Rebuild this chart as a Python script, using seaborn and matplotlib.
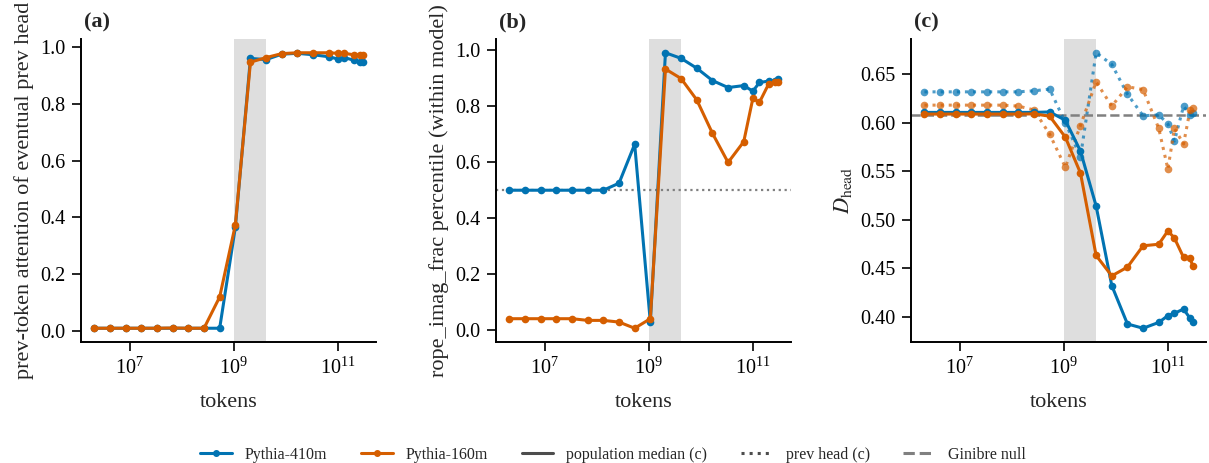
import numpy as np
import matplotlib
matplotlib.use("Agg")
import matplotlib.pyplot as plt
from matplotlib.lines import Line2D
import matplotlib.ticker as ticker
import seaborn as sns

# checkpoints (training steps) and tokens per step
steps = [1, 2, 4, 8, 16, 32, 64, 128, 256, 512, 1000, 2000, 4000, 8000,
         16000, 32000, 48000, 64000, 96000, 128000, 143000]
tokens_per_step = 2097152

# (a) prev-token attention of eventual prev head
attn_410m = [0.010, 0.010, 0.010, 0.010, 0.010, 0.010, 0.010, 0.010, 0.010, 0.365, 0.959,
             0.955, 0.974, 0.977, 0.972, 0.965, 0.957, 0.962, 0.953, 0.946, 0.945]
attn_160m = [0.010, 0.010, 0.010, 0.010, 0.010, 0.011, 0.010, 0.010, 0.120, 0.373, 0.946,
             0.962, 0.976, 0.979, 0.979, 0.979, 0.977, 0.977, 0.972, 0.972, 0.972]

# (b) rope_imag_frac percentile
rope_410m = [0.500, 0.500, 0.500, 0.500, 0.500, 0.500, 0.500, 0.525, 0.664, 0.030, 0.990,
             0.970, 0.935, 0.891, 0.866, 0.873, 0.853, 0.884, 0.889, 0.890, 0.895]
rope_160m = [0.042, 0.042, 0.042, 0.042, 0.042, 0.036, 0.036, 0.030, 0.008, 0.042, 0.932,
             0.898, 0.822, 0.703, 0.599, 0.673, 0.828, 0.813, 0.878, 0.884, 0.884]

# (c) D_head: population median and prev head
med_410m = [0.6105, 0.6105, 0.6105, 0.6105, 0.6105, 0.6105, 0.6105, 0.6105, 0.611, 0.6024, 0.5707,
            0.514, 0.432, 0.3924, 0.388, 0.394, 0.401, 0.4034, 0.4078, 0.3982, 0.3947]
med_160m = [0.6088, 0.6088, 0.6088, 0.6088, 0.6088, 0.6088, 0.6088, 0.609, 0.6066, 0.585, 0.548,
            0.463, 0.442, 0.451, 0.473, 0.4746, 0.4884, 0.481, 0.461, 0.460, 0.4526]
prev_410m = [0.6317, 0.6317, 0.6317, 0.6317, 0.6317, 0.6317, 0.6317, 0.6328, 0.6345, 0.600, 0.5645,
             0.672, 0.660, 0.6293, 0.607, 0.608, 0.5986, 0.581, 0.617, 0.608, 0.610]
prev_160m = [0.618, 0.618, 0.618, 0.618, 0.618, 0.618, 0.617, 0.613, 0.588, 0.554, 0.597,
             0.642, 0.617, 0.637, 0.634, 0.594, 0.552, 0.594, 0.578, 0.613, 0.615]
ginibre_null = 0.6075
onset_window = (1.0e9, 4.2e9)

tokens = np.array(steps) * tokens_per_step
c410 = "#0173b2"
c160 = "#d55e00"

sns.set_theme(style="ticks")
plt.rcParams["font.family"] = ["Liberation Serif", "DejaVu Serif"]
plt.rcParams["mathtext.fontset"] = "stix"
plt.rcParams["axes.linewidth"] = 1.4
plt.rcParams["xtick.major.width"] = 1.2
plt.rcParams["ytick.major.width"] = 1.2
plt.rcParams["xtick.major.size"] = 6.5
plt.rcParams["ytick.major.size"] = 6.5
plt.rcParams["xtick.major.pad"] = 5
plt.rcParams["ytick.major.pad"] = 5
plt.rcParams["axes.edgecolor"] = "black"

fig, axes = plt.subplots(1, 3, figsize=(12.09, 4.63), dpi=100)
fig.subplots_adjust(left=0.067, right=0.9975, bottom=0.2613, top=0.9158, wspace=0.407)

line_kw = dict(marker="o", markersize=5.5, linewidth=2.2, markeredgewidth=0)

def style_axis(ax, letter, ylabel):
    ax.set_xscale("log")
    ax.axvspan(*onset_window, color="0.87", zorder=0, lw=0)
    ax.xaxis.set_major_locator(ticker.FixedLocator([1e7, 1e9, 1e11]))
    ax.xaxis.set_minor_locator(ticker.NullLocator())
    ax.set_xlabel("tokens", fontsize=16, labelpad=10)
    ax.set_ylabel(ylabel, fontsize=16)
    ax.tick_params(labelsize=14.5, colors="black")
    ax.text(0.01, 1.02, letter, transform=ax.transAxes, fontsize=16,
            fontweight="bold", va="bottom", ha="left")
    sns.despine(ax=ax)

# (a)
ax = axes[0]
sns.lineplot(x=tokens, y=attn_410m, ax=ax, color=c410, **line_kw)
sns.lineplot(x=tokens, y=attn_160m, ax=ax, color=c160, **line_kw)
style_axis(ax, "(a)", "prev-token attention of eventual prev head")
ax.set_yticks([0.0, 0.2, 0.4, 0.6, 0.8, 1.0])

# (b)
ax = axes[1]
ax.axhline(0.5, color="0.5", linestyle=":", linewidth=1.6, zorder=1)
sns.lineplot(x=tokens, y=rope_410m, ax=ax, color=c410, **line_kw)
sns.lineplot(x=tokens, y=rope_160m, ax=ax, color=c160, **line_kw)
style_axis(ax, "(b)", "rope_imag_frac percentile (within model)")
ax.set_yticks([0.0, 0.2, 0.4, 0.6, 0.8, 1.0])

# (c)
ax = axes[2]
ax.axhline(ginibre_null, color="0.5", linestyle="--", linewidth=1.8, zorder=1)
sns.lineplot(x=tokens, y=prev_410m, ax=ax, color=c410, linestyle=":", alpha=0.7, **line_kw)
sns.lineplot(x=tokens, y=prev_160m, ax=ax, color=c160, linestyle=":", alpha=0.7, **line_kw)
sns.lineplot(x=tokens, y=med_410m, ax=ax, color=c410, **line_kw)
sns.lineplot(x=tokens, y=med_160m, ax=ax, color=c160, **line_kw)
style_axis(ax, "(c)", r"$D_{\mathrm{head}}$")
ax.set_yticks([0.40, 0.45, 0.50, 0.55, 0.60, 0.65])
ax.yaxis.set_major_formatter(ticker.FormatStrFormatter("%.2f"))

handles = [
    Line2D([], [], color=c410, marker="o", markersize=4, linewidth=2.2),
    Line2D([], [], color=c160, marker="o", markersize=4, linewidth=2.2),
    Line2D([], [], color="0.3", linewidth=2.2),
    Line2D([], [], color="0.3", linewidth=2.2, linestyle=":"),
    Line2D([], [], color="0.5", linewidth=2.2, linestyle="--"),
]
labels = ["Pythia-410m", "Pythia-160m", "population median (c)", "prev head (c)", "Ginibre null"]
fig.legend(handles, labels, loc="lower center", bbox_to_anchor=(0.507, -0.03), ncol=5,
           frameon=False, fontsize=11.5, columnspacing=2.1, handletextpad=0.8)

fig.savefig("out.png", dpi=100)
